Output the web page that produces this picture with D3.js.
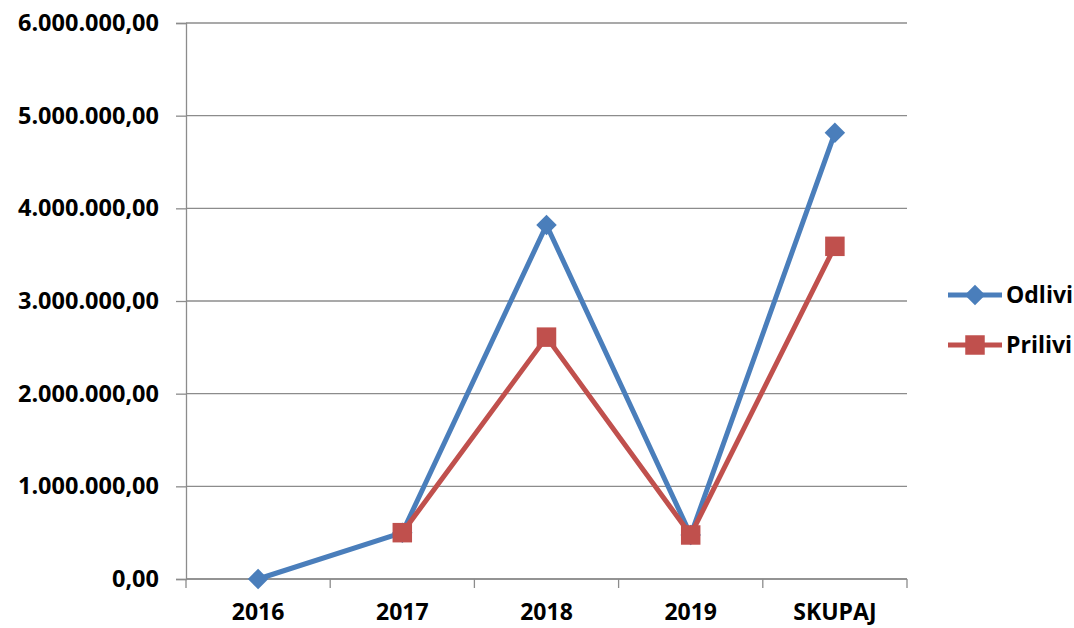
<!DOCTYPE html>
<html>
<head>
<meta charset="utf-8">
<script src="https://cdn.jsdelivr.net/npm/d3@7"></script>
<style>
	body { margin: 0; background: #fff; }
	svg text { font-family: "Open Sans", sans-serif; font-weight: bold; fill: #000; }
</style>
</head>
<body>
<div id="chart"></div>
<script>
var categories = ['2016', '2017', '2018', '2019', 'SKUPAJ'];
var odlivi = [0, 500000, 3820000, 475000, 4815000];
var prilivi = [null, 500000, 2610000, 475000, 3590000];
var yTicks = [0, 1000000, 2000000, 3000000, 4000000, 5000000, 6000000];
var seriesNames = ['Odlivi', 'Prilivi'];

var w = 1074, h = 628;
var plotLeft = 186, plotRight = 907, plotTop = 23, plotBottom = 579;
var blue = '#4a7ebb', red = '#c0504d', grid = '#8c8c8c';

var fmt = function(v) {
	// 1.000.000,00 style
	var s = Math.round(v).toString().replace(/\B(?=(\d{3})+(?!\d))/g, '.');
	return s + ',00';
};

var svg = d3.select('#chart').append('svg')
	.attr('width', w).attr('height', h);

var x = d3.scaleBand().domain(categories).range([plotLeft, plotRight]);
var y = d3.scaleLinear().domain([0, 6000000]).range([plotBottom, plotTop]);

// gridlines
svg.append('g').selectAll('line')
	.data(yTicks)
	.enter().append('line')
	.attr('x1', plotLeft).attr('x2', plotRight)
	.attr('y1', function(d) { return y(d); })
	.attr('y2', function(d) { return y(d); })
	.attr('stroke', grid).attr('stroke-width', 1.3);

// y axis
var yAxis = svg.append('g')
	.attr('transform', 'translate(' + plotLeft + ',0)')
	.call(d3.axisLeft(y).tickValues(yTicks).tickFormat(fmt).tickSize(10).tickPadding(17));
yAxis.select('.domain').attr('stroke', grid).attr('stroke-width', 1.3);
yAxis.selectAll('.tick line').attr('stroke', grid).attr('stroke-width', 1.3);
yAxis.selectAll('text').attr('font-size', '23.5px').attr('font-family', '"Open Sans", sans-serif')
	.attr('font-weight', 'bold').attr('fill', '#000');

// x axis
var xAxis = svg.append('g')
	.attr('transform', 'translate(0,' + plotBottom + ')')
	.call(d3.axisBottom(x).tickSize(0).tickPadding(25));
xAxis.select('.domain').remove();
xAxis.selectAll('text').attr('font-size', '23px').attr('font-family', '"Open Sans", sans-serif')
	.attr('font-weight', 'bold').attr('fill', '#000');
svg.append('line')
	.attr('x1', plotLeft).attr('x2', plotRight).attr('y1', plotBottom).attr('y2', plotBottom)
	.attr('stroke', grid).attr('stroke-width', 1.3);
var edges = categories.map(function(c) { return x(c); }).concat([plotRight]);
svg.append('g').selectAll('line')
	.data(edges)
	.enter().append('line')
	.attr('x1', function(d) { return d; }).attr('x2', function(d) { return d; })
	.attr('y1', plotBottom).attr('y2', plotBottom + 9)
	.attr('stroke', grid).attr('stroke-width', 1.3);

var cx = function(i) { return x(categories[i]) + x.bandwidth() / 2; };

var line = d3.line()
	.defined(function(d) { return d !== null; })
	.x(function(d, i) { return cx(i); })
	.y(function(d) { return y(d); });

var squareSym = d3.symbol().type(d3.symbolSquare).size(380)();
var diamondSym = d3.symbol().type(d3.symbolSquare).size(210)();

function marker(g, shape, color) {
	return g.append('path')
		.attr('d', shape === 'diamond' ? diamondSym : squareSym)
		.attr('transform', shape === 'diamond' ? 'rotate(45)' : null)
		.attr('fill', color);
}

function series(data, color, shape) {
	svg.append('path')
		.datum(data)
		.attr('d', line)
		.attr('fill', 'none')
		.attr('stroke', color)
		.attr('stroke-width', 5)
		.attr('stroke-linejoin', 'round');
	svg.append('g').selectAll('g')
		.data(data.map(function(d, i) { return { v: d, i: i }; }).filter(function(d) { return d.v !== null; }))
		.enter().append('g')
		.attr('transform', function(d) { return 'translate(' + cx(d.i) + ',' + y(d.v) + ')'; })
		.each(function() { marker(d3.select(this), shape, color); });
}

series(odlivi, blue, 'diamond');
series(prilivi, red, 'square');

// legend
var legend = svg.append('g').selectAll('g')
	.data(seriesNames)
	.enter().append('g')
	.attr('transform', function(d, i) { return 'translate(948,' + (295 + i * 50) + ')'; });
legend.append('line')
	.attr('x1', 0).attr('x2', 54)
	.attr('stroke', function(d, i) { return i ? red : blue; })
	.attr('stroke-width', 5);
legend.each(function(d, i) {
	marker(d3.select(this).append('g').attr('transform', 'translate(27,0)'),
		i ? 'square' : 'diamond', i ? red : blue);
});
legend.append('text')
	.attr('x', 58).attr('dy', '0.35em')
	.attr('font-size', '23px')
	.text(function(d) { return d; });
</script>
</body>
</html>
